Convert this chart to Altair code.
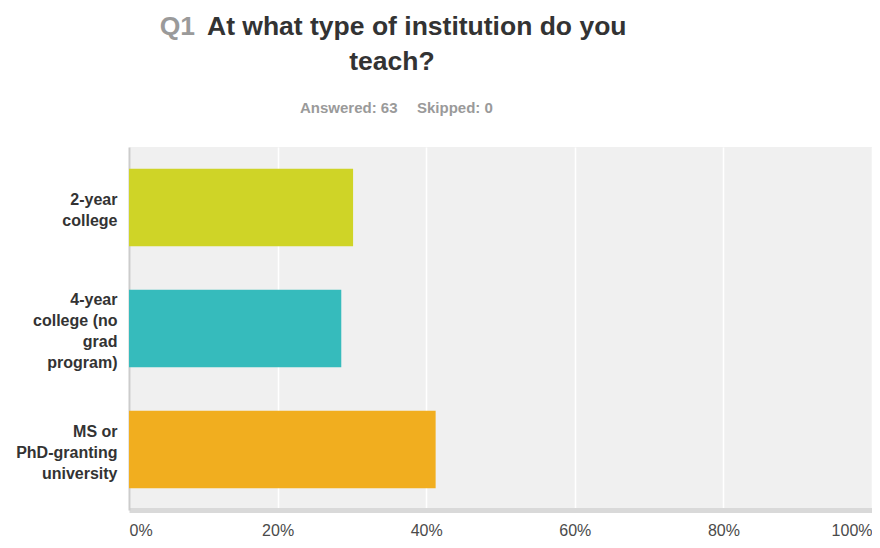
import altair as alt
import pandas as pd

# ---- data ----
categories = [
    "2-year\ncollege",
    "4-year\ncollege (no\ngrad\nprogram)",
    "MS or\nPhD-granting\nuniversity",
]
shares = [0.3016, 0.2857, 0.4127]          # 19/63, 18/63, 26/63
bar_colors = ["#CFD427", "#36BBBC", "#F1AE1F"]
x_ticks = [0, 0.2, 0.4, 0.6, 0.8, 1.0]

title_prefix = "Q1"
title_line1 = "At what type of institution do you"
title_line2 = "teach?"
answered_text = "Answered: 63"
skipped_text = "Skipped: 0"

FONT = "Liberation Sans"
LINE_H = 21

df = pd.DataFrame({"category": categories, "share": shares})

bars = alt.Chart(df).mark_bar().encode(
    x=alt.X(
        "share:Q",
        scale=alt.Scale(domain=[0, 1], nice=False),
        axis=alt.Axis(
            values=x_ticks, format="%", title=None, labelFlush=True,
            ticks=False, grid=True, gridColor="#ffffff", gridWidth=1.5,
            domainColor="#d9d9d9", domainWidth=5,
            labelFontSize=16, labelColor="#4a4a4a", labelPadding=12,
        ),
    ),
    y=alt.Y(
        "category:N", sort=categories,
        scale=alt.Scale(paddingInner=0.36, paddingOuter=0.18),
        axis=alt.Axis(
            title=None, ticks=False, grid=False,
            labelExpr="split(datum.label, '\\n')",
            labelOffset={"expr": f"3 - (length(split(datum.value, '\\n')) - 1) * {LINE_H / 2}"},
            labelFontSize=16, labelFontWeight="bold", labelColor="#333333",
            labelLineHeight=LINE_H, labelPadding=12, labelLimit=200,
            domainColor="#cccccc", domainWidth=2,
        ),
    ),
    color=alt.Color("category:N", scale=alt.Scale(domain=categories, range=bar_colors), legend=None),
)

one = pd.DataFrame({"k": [0]})


def label(text, x, y, size, color, align):
    return alt.Chart(one).mark_text(
        text=text, align=align, baseline="alphabetic", fontSize=size,
        fontWeight="bold", color=color, font=FONT,
    ).encode(x=alt.value(x), y=alt.value(y))


t_q1 = label(title_prefix, 66, -112, 26.5, "#9a9a9a", "right")
t_l1 = label(title_line1, 78, -112, 26.5, "#333333", "left")
t_l2 = label(title_line2, 263, -77, 26.5, "#333333", "center")
t_ans = label(answered_text, 171, -34, 15, "#9a9a9a", "left")
t_skip = label(skipped_text, 288, -34, 15, "#9a9a9a", "left")

chart = alt.layer(bars, t_q1, t_l1, t_l2, t_ans, t_skip).properties(
    width=743, height=363,
    autosize=alt.AutoSizeParams(type="none"),
    padding={"left": 121, "top": 139, "right": 0, "bottom": 30},
).configure(font=FONT).configure_view(fill="#f0f0f0", stroke=None)

chart.save("out.html", embed_options={"renderer": "svg", "actions": False})
